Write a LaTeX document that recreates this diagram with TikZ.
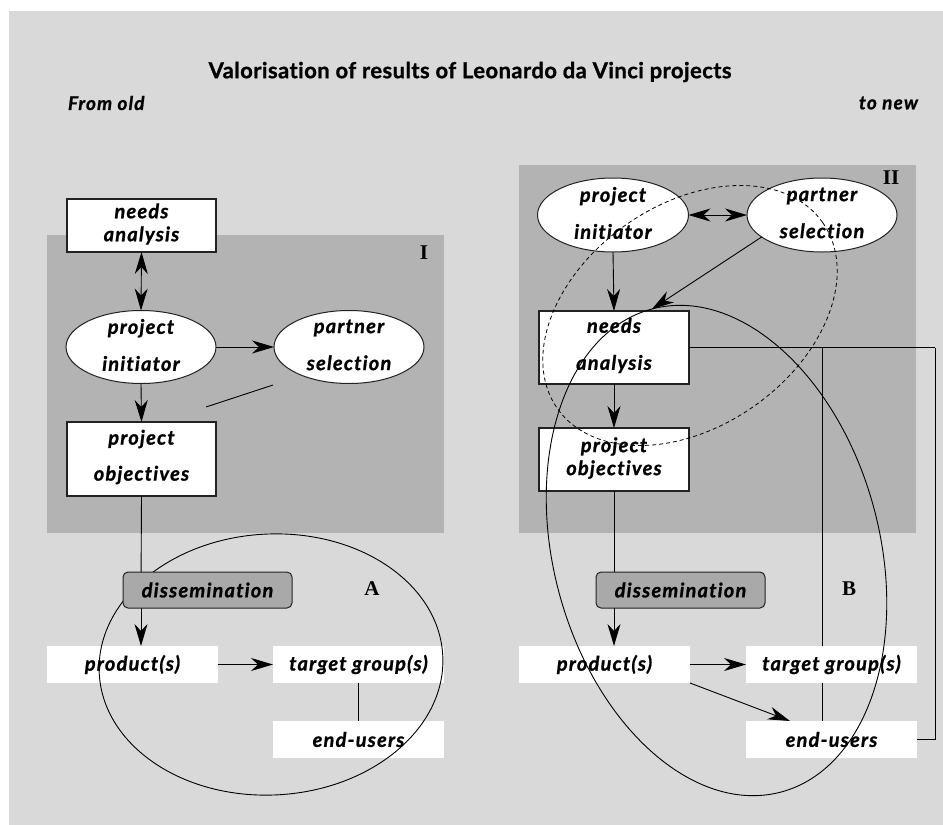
\documentclass[tikz,border=0pt]{standalone}
\usepackage{fontspec}
\setmainfont{Lato}
\newfontfamily\serifb{Liberation Serif}
\usetikzlibrary{shapes.geometric,arrows.meta,calc}
\definecolor{bgl}{HTML}{D9D9D9}
\definecolor{bgd}{HTML}{B3B3B3}
\definecolor{dis}{HTML}{A9A9A9}
\definecolor{edge}{HTML}{222222}
\newcommand{\nfeat}{\addfontfeatures{LetterSpace=6,Ligatures=NoCommon,FakeBold=1}}
\begin{document}
\begin{tikzpicture}[x=1pt,y=1pt,
 every node/.style={inner sep=0pt, outer sep=0pt},
 txt/.style={align=center, text=black},
 tA/.style={txt, font=\fontsize{20}{23}\selectfont\bfseries\itshape\nfeat},
 tB/.style={txt, font=\fontsize{20}{37}\selectfont\bfseries\itshape\nfeat},
 tC/.style={txt, font=\fontsize{20}{36}\selectfont\bfseries\itshape\nfeat},
 boxnode/.style={draw=edge, line width=1.2pt, fill=white},
 ellnode/.style={ellipse, draw=edge, line width=1pt, fill=white, minimum width=150pt, minimum height=73pt},
 wnode/.style={tA, fill=white, minimum width=171pt, minimum height=37pt},
 dissnode/.style={tA, draw=edge, line width=1pt, fill=dis, rounded corners=5pt, minimum width=169pt, minimum height=36pt},
 conn/.style={line width=0.9pt, draw=black},
 tip/.style={-{Stealth[length=22pt,width=13pt,inset=7pt]}},
 arr/.style={conn, tip},
 darr/.style={conn, {Stealth[length=22pt,width=13pt,inset=7pt]}-{Stealth[length=22pt,width=13pt,inset=7pt]}},
 lbl/.style={font=\serifb\fontsize{21}{21}\selectfont\bfseries},
 outline/.style={line width=0.9pt, draw=black},
]
\useasboundingbox (0,0) rectangle (943,-825);
% backgrounds
\fill[bgl] (9,-11) rectangle (943,-825);
\fill[bgd] (47,-235) rectangle (444,-533);
\fill[bgd] (519,-165) rectangle (916,-533);

% titles
\node[font=\fontsize{22}{22}\selectfont\bfseries\addfontfeatures{LetterSpace=2,Ligatures=NoCommon,FakeBold=1}] (title) at (470,-72) {Valorisation of results of Leonardo da Vinci projects};
\node[font=\fontsize{19}{19}\selectfont\bfseries\itshape\nfeat, anchor=west] (fromold) at (68,-103) {From old};
\node[font=\fontsize{19}{19}\selectfont\bfseries\itshape\nfeat, anchor=east] (tonew) at (918,-103) {to new};
\node[lbl] (lI) at (424,-253) {I};
\node[lbl] (lII) at (891,-178) {II};
\node[lbl] (lA) at (372,-589) {A};
\node[lbl] (lB) at (849,-589) {B};

% ---------- left ----------
\node[boxnode, minimum width=149pt, minimum height=53pt] (na1) at (141.5,-225.5) {};
\node[tA] (na1t) at (141.5,-224) {needs\\analysis};
\node[ellnode] (ini1) at (141,-347) {};
\node[tB] (ini1t) at (141,-345) {project\\initiator};
\node[ellnode] (par1) at (349,-347) {};
\node[tB] (par1t) at (349,-345) {partner\\selection};
\node[boxnode, minimum width=149pt, minimum height=74pt] (obj1) at (141.5,-459) {};
\node[tC] (obj1t) at (141.5,-457) {project\\objectives};

\draw[darr] (na1.south) -- (ini1.north);
\draw[arr] (ini1) -- (par1);
\draw[arr] (ini1.south) -- (obj1.north);
\coordinate (d1a) at (206,-407);
\coordinate (d1b) at (273,-385);
\draw[conn] (d1a) -- (d1b);

\node[wnode] (pro1) at (132.5,-664.5) {product(s)};
\node[wnode] (tar1) at (358.5,-664.5) {target group(s)};
\node[wnode] (end1) at (358.5,-739.5) {end-users};
\draw[arr] (pro1) -- (tar1);
\draw[conn] (tar1) -- (end1);

\coordinate (dax) at (141,-590);
\draw[conn] (obj1.south) -- (dax);
\draw[arr] (dax) -- (dax |- pro1.north);
\coordinate (elA) at (271,-664.5);
\draw[outline, rotate around={3:(elA)}] (elA) ellipse [x radius=172, y radius=130.5];
\node[dissnode] (dis1) at (207.5,-590) {dissemination};

% ---------- right ----------
\coordinate (rc) at (935,-347.5);
\coordinate (vc) at (822,-347.5);
\coordinate (vbot) at (822,-721);
\node[ellnode, minimum width=151pt, minimum height=74pt] (ini2) at (613,-215) {};
\node[tB] (ini2t) at (613,-213) {project\\initiator};
\node[ellnode, minimum width=150pt, minimum height=74pt] (par2) at (822,-215) {};
\node[tB] (par2t) at (822,-213) {partner\\selection};
\draw[darr] (ini2) -- (par2);

\draw[conn] (vc) -- (vbot);
\node[boxnode, minimum width=150pt, minimum height=73pt] (na2) at (614,-347.5) {};
\node[tB] (na2t) at (614,-345.5) {needs\\analysis};
\node[boxnode, minimum width=150pt, minimum height=63pt] (obj2) at (614,-459.5) {};
\node[tA] (obj2t) at (614,-458) {project\\objectives};
\draw[conn] (na2.east) -- (rc);
\draw[arr] (ini2.south) -- (na2.north);
\coordinate (natip) at (652,-309);
\draw[arr] (par2.200) -- (natip);
\draw[arr] (na2.south) -- (obj2.north);

\node[wnode] (pro2) at (604.5,-664.5) {product(s)};
\node[wnode] (tar2) at (831.5,-664.5) {target group(s)};
\node[wnode] (end2) at (831.5,-739.5) {end-users};
\draw[conn] (rc) |- (end2.east);
\draw[arr] (pro2) -- (tar2);
\coordinate (eutop) at (790,-721);
\draw[arr] (pro2.south east) -- (eutop);

\node[dissnode] (dis2) at (680.5,-590) {dissemination};
\draw[conn] (obj2.south) -- (obj2.south |- dis2.north);
\draw[arr] (obj2.south |- dis2.south) -- (obj2.south |- pro2.north);

\coordinate (elB) at (716.5,-550.5);
\draw[outline, rotate around={15:(elB)}] (elB) ellipse [x radius=163, y radius=250];
\coordinate (elC) at (690,-315.5);
\draw[line width=0.8pt, dash pattern=on 4pt off 3pt, rotate around={35:(elC)}] (elC) ellipse [x radius=162, y radius=111];
\end{tikzpicture}
\end{document}
